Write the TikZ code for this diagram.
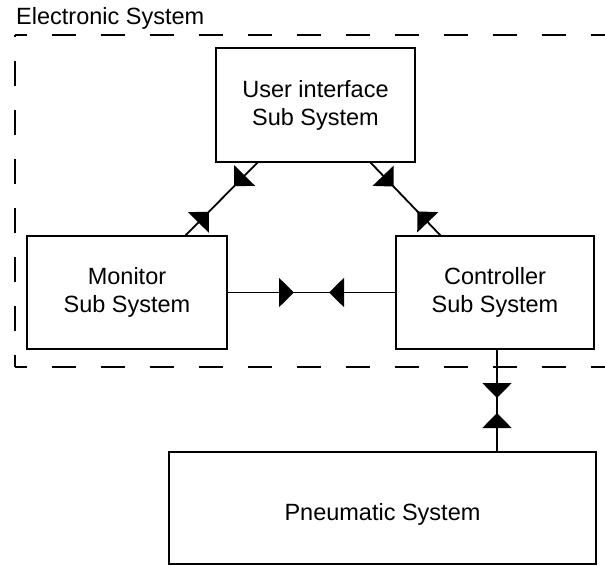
\documentclass[tikz,border=0pt]{standalone}
\usepackage{fontspec}
\setmainfont{Liberation Sans}
\usetikzlibrary{arrows.meta,decorations.markings}
\tikzset{
  Tri/.tip={Triangle[length=15pt,width=29pt]},
  box/.style={draw, line width=1.8pt, inner sep=0pt, outer sep=0pt, align=center, font=\fontsize{23.5}{28}\selectfont},
  conn/.style={line width=1.8pt},
  dsh/.style={line width=2pt, dash pattern=on 24.5pt off 24.5pt, dash phase=12.5pt},
  bi/.style 2 args={conn, postaction={decorate}, decoration={markings,
      mark=at position #1 with {\arrow{Tri}},
      mark=at position #2 with {\arrowreversed{Tri}}}}
}
\begin{document}
\begin{tikzpicture}[x=1pt,y=-1pt]
\useasboundingbox (0,0) rectangle (605,565);
% title and dashed frame
\node[anchor=base west, inner sep=0pt, font=\fontsize{23.5}{28}\selectfont] (title) at (16,24) {Electronic System};
\draw[dsh] (15,35) -- (605,35);
\draw[dsh] (15,367) -- (15,35);
\draw[dsh] (15,367) -- (605,367);
% boxes
\node[box, minimum width=199pt, minimum height=114pt] (ui) at (315.5,105) {User interface\\Sub System};
\node[box, minimum width=200pt, minimum height=113pt] (mon) at (127,292.5) {Monitor\\Sub System};
\node[box, minimum width=198pt, minimum height=113pt] (ctl) at (495,292.5) {Controller\\Sub System};
\node[box, minimum width=427pt, minimum height=112pt, text height=24pt, text depth=0pt] (pn) at (382.5,508) {Pneumatic System};
% connectors
\draw[bi={34pt}{-34pt}] ([xshift=-57.5pt]ui.south) -- ([xshift=58pt]mon.north);
\draw[bi={34pt}{-34pt}] ([xshift=54.5pt]ui.south) -- ([xshift=-54pt]ctl.north);
\draw[bi={67pt}{-67pt}] (mon.east) -- (ctl.west);
\draw[bi={49pt}{-39pt}] ([xshift=2pt]ctl.south) -- ([xshift=2pt]ctl.south |- pn.north);
\end{tikzpicture}
\end{document}
